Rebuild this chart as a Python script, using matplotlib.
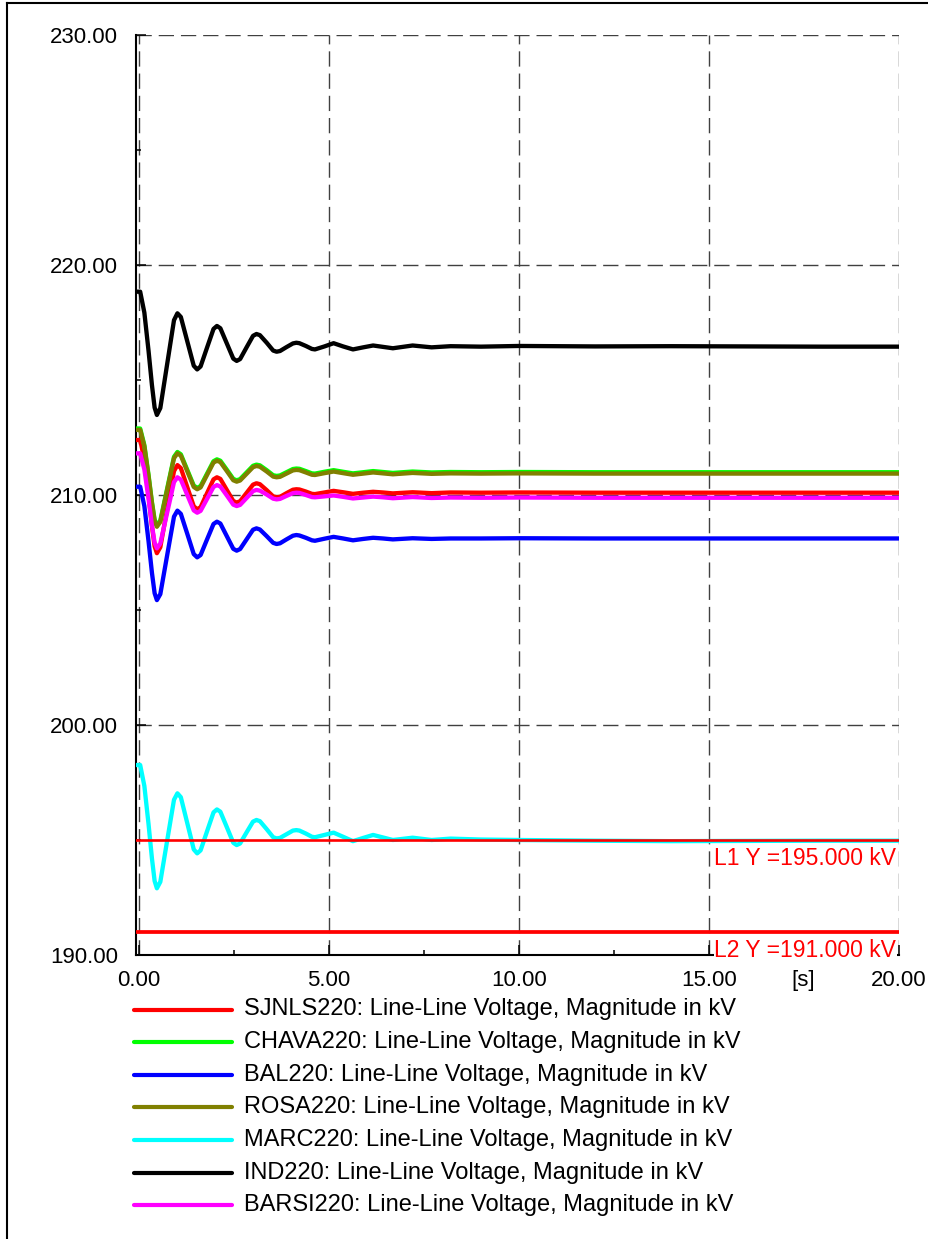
import matplotlib
matplotlib.use("Agg")
import matplotlib.pyplot as plt
from matplotlib.lines import Line2D
from matplotlib.ticker import MultipleLocator, FormatStrFormatter

plt.rcParams['font.family'] = ['Liberation Sans', 'DejaVu Sans']

# ---------------- data ----------------
time_s = [-0.08, 0.03, 0.14, 0.25, 0.34, 0.41, 0.47,
          0.56, 0.74, 0.92, 1.01,
          1.10, 1.27, 1.44, 1.53,
          1.62, 1.79, 1.96, 2.05,
          2.14, 2.31, 2.48, 2.57,
          2.66, 2.83, 3.00, 3.09,
          3.18, 3.36, 3.53, 3.62,
          3.71, 3.88, 4.05, 4.14,
          4.22, 4.39, 4.55, 4.63,
          4.88, 5.12, 5.37, 5.63, 5.90, 6.16, 6.42, 6.68,
          7.20, 7.70, 8.20, 9.0, 10.0, 12.0, 14.0, 16.0, 18.0, 20.0]

sjnls220 = [212.39, 212.39, 211.55, 210.03, 208.65, 207.77, 207.47,
            207.73, 209.39, 211.04, 211.30,
            211.17, 210.34, 209.51, 209.38,
            209.47, 210.08, 210.68, 210.77,
            210.70, 210.22, 209.74, 209.67,
            209.73, 210.09, 210.45, 210.51,
            210.47, 210.21, 209.94, 209.90,
            209.92, 210.08, 210.23, 210.25,
            210.24, 210.15, 210.05, 210.04,
            210.11, 210.18, 210.12, 210.05, 210.10, 210.14, 210.11, 210.07,
            210.12, 210.08, 210.11, 210.10, 210.11, 210.10, 210.10, 210.10, 210.10, 210.10]
chava220 = [212.89, 212.89, 212.17, 210.87, 209.69, 208.93, 208.68,
            208.89, 210.28, 211.66, 211.87,
            211.77, 211.09, 210.41, 210.31,
            210.39, 210.93, 211.47, 211.55,
            211.49, 211.10, 210.70, 210.64,
            210.69, 210.98, 211.27, 211.32,
            211.29, 211.08, 210.86, 210.83,
            210.85, 210.99, 211.13, 211.15,
            211.14, 211.04, 210.94, 210.93,
            211.01, 211.08, 211.01, 210.94, 210.99, 211.04, 211.00, 210.96,
            211.02, 210.98, 211.00, 210.99, 211.00, 210.99, 210.99, 210.99, 210.99, 210.99]
bal220 = [210.36, 210.36, 209.52, 207.99, 206.61, 205.73, 205.43,
          205.69, 207.38, 209.06, 209.32,
          209.18, 208.31, 207.43, 207.29,
          207.39, 208.07, 208.74, 208.84,
          208.76, 208.21, 207.66, 207.58,
          207.65, 208.07, 208.49, 208.55,
          208.50, 208.21, 207.92, 207.87,
          207.90, 208.07, 208.23, 208.26,
          208.24, 208.14, 208.03, 208.01,
          208.10, 208.18, 208.11, 208.03, 208.09, 208.14, 208.11, 208.07,
          208.12, 208.09, 208.11, 208.11, 208.12, 208.11, 208.11, 208.11, 208.11, 208.11]
rosa220 = [212.83, 212.83, 212.11, 210.81, 209.63, 208.87, 208.62,
           208.83, 210.22, 211.60, 211.81,
           211.71, 211.03, 210.35, 210.25,
           210.33, 210.87, 211.41, 211.49,
           211.43, 211.04, 210.64, 210.58,
           210.63, 210.92, 211.21, 211.26,
           211.23, 211.02, 210.80, 210.77,
           210.79, 210.93, 211.07, 211.09,
           211.08, 210.98, 210.88, 210.87,
           210.95, 211.02, 210.95, 210.88, 210.93, 210.98, 210.94, 210.90,
           210.96, 210.92, 210.94, 210.93, 210.94, 210.93, 210.93, 210.93, 210.93, 210.93]
marc220 = [198.26, 198.26, 197.35, 195.69, 194.19, 193.22, 192.90,
           193.18, 194.97, 196.75, 197.03,
           196.86, 195.73, 194.59, 194.42,
           194.55, 195.38, 196.20, 196.33,
           196.23, 195.56, 194.88, 194.78,
           194.85, 195.33, 195.80, 195.87,
           195.82, 195.47, 195.12, 195.07,
           195.09, 195.25, 195.41, 195.43,
           195.41, 195.28, 195.14, 195.12,
           195.22, 195.32, 195.14, 194.95, 195.09, 195.22, 195.11, 195.00,
           195.10, 195.00, 195.06, 195.02, 195.00, 194.97, 194.95, 194.96, 194.97, 194.97]
ind220 = [218.84, 218.84, 217.93, 216.27, 214.77, 213.80, 213.48,
          213.78, 215.69, 217.60, 217.90,
          217.74, 216.68, 215.62, 215.46,
          215.59, 216.41, 217.22, 217.35,
          217.25, 216.59, 215.93, 215.83,
          215.91, 216.42, 216.92, 217.00,
          216.95, 216.62, 216.28, 216.23,
          216.26, 216.43, 216.59, 216.62,
          216.60, 216.48, 216.35, 216.33,
          216.46, 216.60, 216.46, 216.33, 216.42, 216.50, 216.44, 216.38,
          216.50, 216.42, 216.47, 216.45, 216.48, 216.46, 216.47, 216.46, 216.45, 216.45]
barsi220 = [211.81, 211.81, 211.11, 209.83, 208.67, 207.93, 207.68,
            207.89, 209.23, 210.56, 210.77,
            210.67, 210.00, 209.33, 209.23,
            209.31, 209.83, 210.35, 210.43,
            210.37, 209.98, 209.58, 209.52,
            209.57, 209.87, 210.17, 210.22,
            210.19, 210.02, 209.84, 209.81,
            209.83, 209.96, 210.08, 210.10,
            210.09, 210.00, 209.91, 209.90,
            209.94, 209.98, 209.92, 209.85, 209.89, 209.93, 209.90, 209.86,
            209.91, 209.87, 209.89, 209.88, 209.89, 209.88, 209.88, 209.88, 209.88, 209.88]

series_names = ["SJNLS220", "CHAVA220", "BAL220", "ROSA220", "MARC220", "IND220", "BARSI220"]
series_values = [sjnls220, chava220, bal220, rosa220, marc220, ind220, barsi220]
series_colors = ["#ff0000", "#00ff00", "#0000ff", "#808000", "#00ffff", "#000000", "#ff00ff"]
label_suffix = ": Line-Line Voltage, Magnitude in kV"

limit_values = [195.0, 191.0]
limit_labels = ["L1 Y =195.000 kV", "L2 Y =191.000 kV"]
limit_widths = [1.9, 2.7]

x_ticks = [0, 5, 10, 15, 20]
y_ticks = [190, 200, 210, 220, 230]

# ---------------- figure ----------------
W, H = 929, 1239
fig = plt.figure(figsize=(W / 100, H / 100), dpi=100)
ax = fig.add_axes([136 / W, 1 - 955 / H, (899 - 136) / W, (955 - 35) / H])

for name, vals, col in zip(series_names, series_values, series_colors):
    n = min(len(time_s), len(vals))
    ax.plot(time_s[:n], vals[:n], color=col, lw=3.1, solid_joinstyle='round',
            solid_capstyle='butt', zorder=3)

for val, lab, lw in zip(limit_values, limit_labels, limit_widths):
    ax.axhline(val, color="#ff0000", lw=lw, zorder=3.5)
    ax.annotate(lab, xy=(20, val), xycoords='data', xytext=(-2, -5.2),
                textcoords='offset points', ha='right', va='top', color="#ff0000",
                fontsize=16.5, zorder=6, annotation_clip=False,
                bbox=dict(facecolor='white', edgecolor='none', pad=0.3))

ax.set_xlim(-0.08, 20)
ax.set_ylim(190, 230)
ax.set_xticks(x_ticks)
ax.set_yticks(y_ticks)
ax.xaxis.set_minor_locator(MultipleLocator(2.5))
ax.yaxis.set_minor_locator(MultipleLocator(5))
ax.xaxis.set_major_formatter(FormatStrFormatter('%.2f'))
ax.yaxis.set_major_formatter(FormatStrFormatter('%.2f'))
ax.tick_params(axis='both', which='major', direction='in', length=7, width=1.1,
               labelsize=16, color='black')
ax.tick_params(axis='both', which='minor', direction='in', length=3.6, width=1.1,
               color='black')
ax.tick_params(axis='y', which='major', pad=13)
ax.tick_params(axis='x', which='major', pad=11)

ax.grid(True, which='major', color='#404040', lw=1.0, linestyle=(0, (11, 5)))
ax.set_axisbelow(True)
for s in ['top', 'right']:
    ax.spines[s].set_visible(False)
for s in ['left', 'bottom']:
    ax.spines[s].set_linewidth(1.5)
    ax.spines[s].set_color('black')

ax.annotate("[s]", xy=(0.874, 0), xycoords='axes fraction', xytext=(0, -11),
            textcoords='offset points', ha='center', va='top', fontsize=16)

# ---------------- legend (manual, below the axes) ----------------
row0 = 1009.5
dy = 32.6
for i, (name, col) in enumerate(zip(series_names, series_colors)):
    yy = 1 - (row0 + i * dy) / H
    fig.add_artist(Line2D([134 / W, 232 / W], [yy, yy], color=col, lw=3.0,
                          transform=fig.transFigure, solid_capstyle='round'))
    fig.text(244 / W, yy, name + label_suffix, fontsize=17, va='center', ha='left')

# ---------------- figure frame (top and left only) ----------------
fig.add_artist(Line2D([7 / W, 1.0], [1 - 3 / H, 1 - 3 / H], color='black', lw=1.5,
                      transform=fig.transFigure))
fig.add_artist(Line2D([7 / W, 7 / W], [0.0, 1 - 3 / H], color='black', lw=1.5,
                      transform=fig.transFigure))

fig.savefig("out.png", dpi=100)
